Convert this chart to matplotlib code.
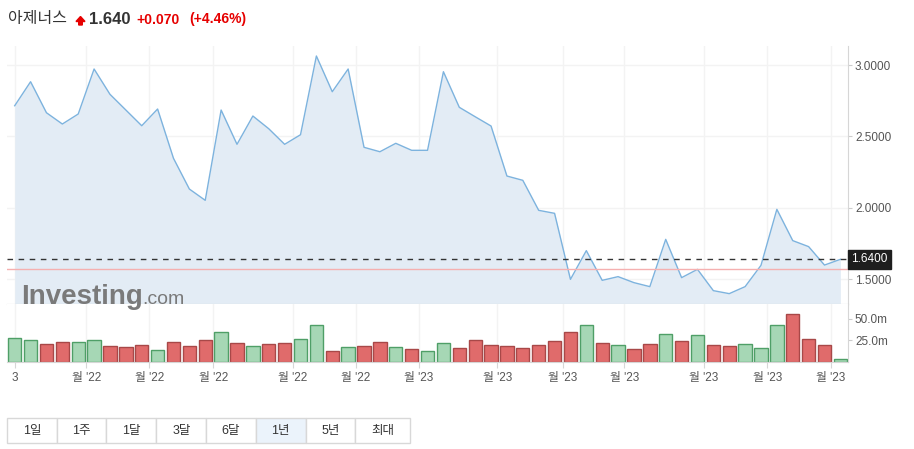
import matplotlib.pyplot as plt
from matplotlib.patches import Rectangle, Polygon
import matplotlib.transforms as mtransforms

plt.rcParams['font.family'] = ['Liberation Sans', 'Noto Sans CJK KR', 'DejaVu Sans']

# --- data (weekly, 1 year) ---
prices = [2.715, 2.883, 2.666, 2.587, 2.657, 2.972, 2.795, 2.685, 2.575, 2.692,
          2.347, 2.132, 2.053, 2.685, 2.445, 2.643, 2.554, 2.445, 2.512, 3.063,
          2.813, 2.972, 2.424, 2.393, 2.452, 2.403, 2.403, 2.953, 2.704, 2.638,
          2.573, 2.223, 2.193, 1.983, 1.962, 1.500, 1.701, 1.493, 1.519, 1.477,
          1.449, 1.780, 1.512, 1.570, 1.421, 1.400, 1.449, 1.598, 1.990, 1.771,
          1.729, 1.600, 1.640]
volumes = [27.7, 25.3, 21.1, 23.0, 23.0, 25.3, 18.4, 17.3, 19.6, 13.8,
           23.0, 18.4, 25.3, 34.6, 21.9, 18.4, 21.1, 21.9, 26.5, 42.6,
           12.7, 17.3, 18.4, 23.0, 17.3, 15.0, 12.7, 21.9, 16.1, 25.3,
           19.6, 18.4, 16.1, 19.6, 24.2, 34.6, 42.6, 21.9, 19.6, 15.0,
           20.7, 32.3, 24.2, 31.1, 19.6, 18.4, 20.7, 16.1, 42.6, 55.3,
           26.5, 19.6, 3.5]  # millions
bar_dir = ['up', 'up', 'dn', 'dn', 'up', 'up', 'dn', 'dn', 'dn', 'up',
           'dn', 'dn', 'dn', 'up', 'dn', 'up', 'dn', 'dn', 'up', 'up',
           'dn', 'up', 'dn', 'dn', 'up', 'dn', 'up', 'up', 'dn', 'dn',
           'dn', 'dn', 'dn', 'dn', 'dn', 'dn', 'up', 'dn', 'up', 'dn',
           'dn', 'up', 'dn', 'up', 'dn', 'dn', 'up', 'up', 'up', 'dn',
           'dn', 'dn', 'up']
tick_pos = [0, 4.5, 8.47, 12.5, 17.5, 21.5, 25.45, 30.4, 34.5, 38.4, 43.4, 47.4, 51.4]
tick_labels = ['3', "월 '22", "월 '22", "월 '22", "월 '22", "월 '22",
               "월 '23", "월 '23", "월 '23", "월 '23", "월 '23", "월 '23", "월 '23"]
last_price = 1.640
prev_close = 1.570
buttons = ['1일', '1주', '1달', '3달', '6달', '1년', '5년', '최대']

W, H = 914, 449
fig = plt.figure(figsize=(W / 100, H / 100), dpi=100)
fig.patch.set_facecolor('white')

def box(l, t, r, b):
    return [l / W, 1 - b / H, (r - l) / W, (b - t) / H]

x = list(range(len(prices)))
xlim = (-0.485, 52.48)

# --- price panel ---
ax = fig.add_axes(box(7, 46, 848, 304))
ax.fill_between(x, prices, 0, color='#e3ecf5', lw=0)
ax.plot(x, prices, color='#7db3de', lw=1.0)
ax.axhline(prev_close, color='#f5b0b0', lw=1.0)
ax.axhline(last_price, color='#333333', lw=1.0, dashes=(4, 4))
ax.set_xlim(*xlim)
ax.set_ylim(1.3275, 3.133)
ax.set_yticks([1.5, 2.0, 2.5, 3.0])
ax.yaxis.tick_right()
ax.set_yticklabels(['1.5000', '2.0000', '2.5000', '3.0000'])
ax.tick_params(axis='y', length=3, color='#cccccc', labelsize=8.5,
               labelcolor='#555555', pad=2)
ax.set_xticks(tick_pos)
ax.tick_params(axis='x', length=0, labelbottom=False)
ax.grid(True, color='#f3f3f3', lw=1)
ax.set_axisbelow(True)
for s in ['top', 'left']:
    ax.spines[s].set_visible(False)
ax.spines['right'].set_color('#d6d6d6')
ax.spines['bottom'].set_color('#c8c8c8')

trans = mtransforms.blended_transform_factory(ax.transAxes, ax.transData)
ax.text(1.004, last_price, '1.6400', transform=trans, ha='left', va='center',
        color='white', fontsize=8.5,
        bbox=dict(boxstyle='square,pad=0.3', fc='#1e1e1e', ec='#1e1e1e'))

# watermark
fig.text(21 / W, 1 - 297 / H, 'Investing', fontsize=20, fontweight='bold',
         color='#7a7a7a', va='center', ha='left')
fig.text(142 / W, 1 - 299.5 / H, '.com', fontsize=14, color='#7a7a7a',
         va='center', ha='left')

# --- volume panel ---
vx = fig.add_axes(box(7, 304, 848, 362))
face = {'up': '#a6d7b5', 'dn': '#e06b6b'}
edge = {'up': '#4f9f67', 'dn': '#a84848'}
vx.bar(x, volumes, width=0.84, color=[face[d] for d in bar_dir],
       edgecolor=[edge[d] for d in bar_dir], linewidth=1)
vx.set_xlim(*xlim)
vx.set_ylim(0, 66.8)
vx.yaxis.tick_right()
vx.set_yticks([25, 50])
vx.set_yticklabels(['25.0m', '50.0m'])
vx.tick_params(axis='y', length=3, color='#cccccc', labelsize=8.5,
               labelcolor='#555555', pad=2)
vx.set_xticks(tick_pos)
vx.set_xticklabels(tick_labels)
vx.tick_params(axis='x', length=4, color='#d6d6d6', labelsize=8.5,
               labelcolor='#555555', pad=3)
vx.grid(True, axis='x', color='#f3f3f3', lw=1)
vx.set_axisbelow(True)
for s in ['top', 'left']:
    vx.spines[s].set_visible(False)
vx.spines['right'].set_color('#d6d6d6')
vx.spines['bottom'].set_color('#d6d6d6')

# --- header ---
fig.text(8 / W, 1 - 19 / H, '아제너스', fontsize=11.5, color='#333333',
         va='center', ha='left')
fig.patches.append(Polygon([[76 / W, 1 - 21.5 / H], [80.5 / W, 1 - 16.5 / H],
                            [85 / W, 1 - 21.5 / H], [82.3 / W, 1 - 21.5 / H],
                            [82.3 / W, 1 - 25 / H], [78.7 / W, 1 - 25 / H],
                            [78.7 / W, 1 - 21.5 / H]],
                           closed=True, transform=fig.transFigure,
                           color='#e60000'))
fig.text(89 / W, 1 - 19.5 / H, '1.640', fontsize=12, fontweight='bold',
         color='#333333', va='center', ha='left')
fig.text(136 / W, 1 - 19.5 / H, '+0.070', fontsize=10, fontweight='bold',
         color='#e60000', va='center', ha='left')
fig.text(189 / W, 1 - 19.5 / H, '(+4.46%)', fontsize=10, fontweight='bold',
         color='#e60000', va='center', ha='left')

# --- range buttons ---
edges = [7.3, 57.3, 106.3, 156.3, 206.3, 255.7, 305.7, 355.3, 410]
for i, lab in enumerate(buttons):
    l, r = edges[i], edges[i + 1]
    fc = '#ebf3fb' if lab == '1년' else 'white'
    fig.patches.append(Rectangle((l / W, 1 - 443.3 / H), (r - l) / W, 25 / H,
                                 transform=fig.transFigure, fc=fc,
                                 ec='#d8d8d8', lw=1))
    fig.text((l + r) / 2 / W, 1 - 431 / H, lab, fontsize=9, color='#333333',
             ha='center', va='center')

fig.savefig('out.png', dpi=100)
